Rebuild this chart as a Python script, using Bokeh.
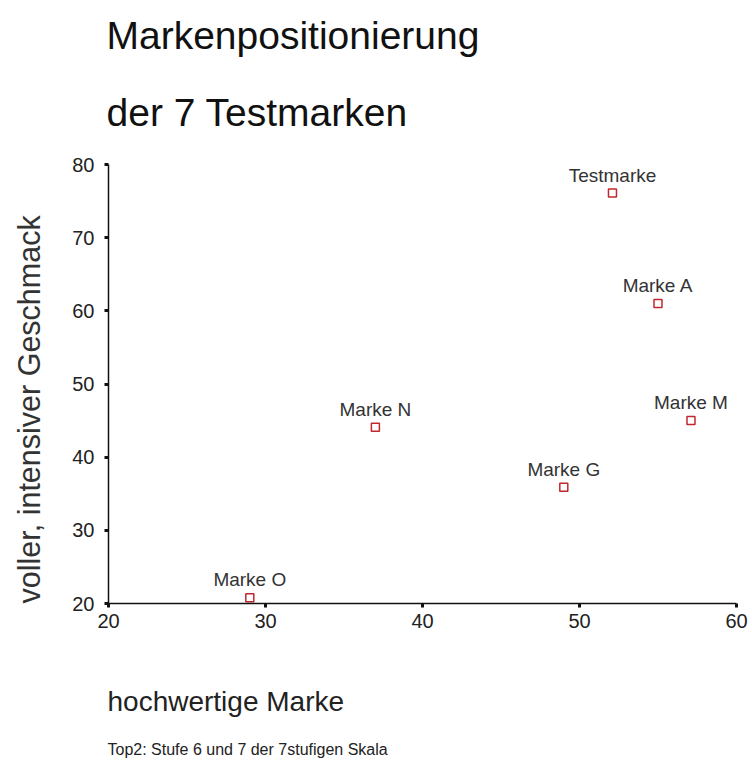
from bokeh.plotting import figure
from bokeh.models import ColumnDataSource, Range1d, FixedTicker, Title, LinearAxis
from bokeh.core.properties import value
from bokeh.embed import file_html
from bokeh.resources import INLINE

# ---- data ----
brands = ["Testmarke", "Marke A", "Marke M", "Marke N", "Marke G", "Marke O"]
hochwertig = [52.1, 55.0, 57.1, 37.0, 49.0, 29.0]
geschmack = [76.1, 61.0, 45.0, 44.1, 35.9, 20.8]
x_ticks = [20, 30, 40, 50, 60]
y_ticks = [20, 30, 40, 50, 60, 70, 80]

title_lines = ["Markenpositionierung", "der 7 Testmarken"]
x_label = "hochwertige Marke"
y_label = "voller, intensiver Geschmack"
footnote = "Top2: Stufe 6 und 7 der 7stufigen Skala"

FONT = "Liberation Sans"

source = ColumnDataSource(dict(x=hochwertig, y=geschmack, name=brands))

p = figure(
    width=750, height=770,
    x_range=Range1d(20, 60), y_range=Range1d(20, 80),
    output_backend="svg", toolbar_location=None,
    min_border_left=108, min_border_right=14,
    min_border_top=164, min_border_bottom=167,
)
p.background_fill_color = "white"
p.border_fill_color = "white"
p.outline_line_color = None
p.grid.visible = False

for ax in (p.xaxis[0], p.yaxis[0]):
    ax.axis_line_color = "#111111"
    ax.axis_line_width = 1.5
    ax.major_tick_line_color = "#111111"
    ax.major_tick_line_width = 3
    ax.major_tick_out = 4
    ax.major_tick_in = 0
    ax.minor_tick_line_color = None
    ax.major_label_text_font = FONT
    ax.major_label_text_font_size = "20px"
    ax.major_label_text_color = "#222222"

p.xaxis[0].ticker = FixedTicker(ticks=x_ticks)
p.yaxis[0].ticker = FixedTicker(ticks=y_ticks)
p.xaxis[0].major_label_standoff = 6
p.yaxis[0].major_label_standoff = 10


def spacer(size, tick):
    """Invisible axis used only to reserve room in a side panel."""
    return LinearAxis(ticker=FixedTicker(ticks=[tick]), axis_line_color=None,
                      major_tick_line_color=None, minor_tick_line_color=None,
                      major_tick_out=size, major_tick_in=0,
                      minor_tick_out=0, minor_tick_in=0,
                      major_label_standoff=0,
                      major_label_overrides={tick: ""})


# points
p.scatter("x", "y", source=source, marker="square", size=8,
          fill_color="white", line_color="#c0282d", line_width=1.5)

# point labels
p.text("x", "y", text="name", source=source,
       text_font=value(FONT), text_font_size="19px", text_color="#333333",
       text_align="center", text_baseline="alphabetic", y_offset=-18)

# two-line title (first added sits closest to the plot)
p.add_layout(Title(text=title_lines[1], align="left", offset=-2, standoff=62,
                   text_font=FONT, text_font_size="39px",
                   text_font_style="normal", text_color="#111111"), "above")
p.add_layout(Title(text=title_lines[0], align="left", offset=-2, standoff=2,
                   text_font=FONT, text_font_size="39px",
                   text_font_style="normal", text_color="#111111"), "above")

# y label: starts at the bottom of the axis, reads upward
p.add_layout(spacer(22, y_ticks[0]), "left")
p.add_layout(Title(text=y_label, align="left", offset=0, standoff=4,
                   text_font=FONT, text_font_size="30.5px",
                   text_font_style="normal", text_color="#333333"), "left")

# x label and footnote below the axis, left aligned
p.add_layout(spacer(33, x_ticks[0]), "below")
p.add_layout(Title(text=x_label, align="left", offset=-1, standoff=40,
                   text_font=FONT, text_font_size="28px",
                   text_font_style="normal", text_color="#222222"), "below")
p.add_layout(Title(text=footnote, align="left", offset=-1, standoff=4,
                   text_font=FONT, text_font_size="16px",
                   text_font_style="normal", text_color="#222222"), "below")

open("out.html", "w").write(file_html(p, INLINE))
